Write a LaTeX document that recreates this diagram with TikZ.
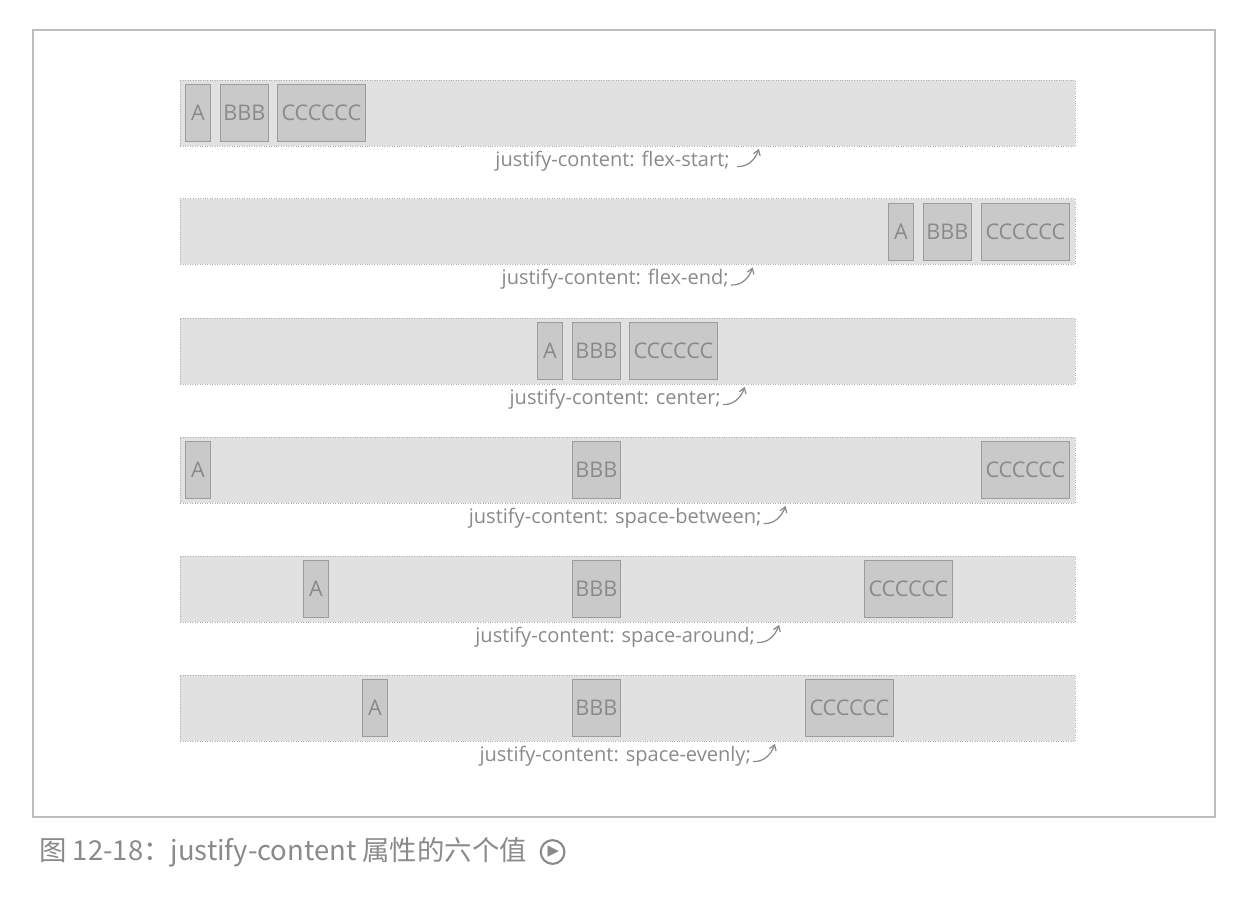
\documentclass[tikz,border=0pt]{standalone}
\usepackage{fontspec}
\setmainfont{Open Sans}
\newfontfamily\cjkfont{Noto Sans CJK SC}
\newfontfamily\symfont{DejaVu Sans}
\usetikzlibrary{positioning, arrows.meta}
\definecolor{flexbg}{HTML}{E1E1E1}
\definecolor{itembg}{HTML}{C9C9C9}
\definecolor{itemline}{HTML}{9C9C9C}
\definecolor{inkgray}{HTML}{8A8A8A}
\definecolor{framegray}{HTML}{BDBDBD}

\begin{document}
\begin{tikzpicture}[
    x=0.02cm, y=-0.02cm,
    flexbox/.style={draw=itemline!80, densely dotted, fill=flexbg, minimum width=17.9cm, minimum height=1.32cm, inner sep=0pt},
    item/.style={draw=itemline, fill=itembg, minimum height=1.14cm, inner sep=0pt, anchor=west, text=inkgray, font=\fontsize{12.3}{14}\selectfont},
    itemA/.style={item, minimum width=0.5cm},
    itemB/.style={item, minimum width=0.96cm},
    itemC/.style={item, minimum width=1.76cm},
    caption/.style={font=\fontsize{11.4}{13}\selectfont, text=inkgray, inner sep=1pt},
    hook/.style={inkgray, line width=0.7pt, -{Straight Barb[length=3pt, width=4pt]}}
  ]
    \useasboundingbox (0,0) rectangle (1252,906);
    \draw[framegray, line width=0.6pt] (33,30) rectangle (1215,817);

    % Flex containers
    \node[flexbox] (row1) at (627.5,113) {};
    \node[flexbox] (row2) at (627.5,231.5) {};
    \node[flexbox] (row3) at (627.5,351) {};
    \node[flexbox] (row4) at (627.5,470) {};
    \node[flexbox] (row5) at (627.5,589) {};
    \node[flexbox] (row6) at (627.5,708) {};

    % flex-start
    \node[itemA] (a1) at (185,113) {A};
    \node[itemB] (b1) at (220,113) {BBB};
    \node[itemC] (c1) at (277,113) {CCCCCC};
    % flex-end
    \node[itemA] (a2) at (888,231.5) {A};
    \node[itemB] (b2) at (923,231.5) {BBB};
    \node[itemC] (c2) at (981,231.5) {CCCCCC};
    % center
    \node[itemA] (a3) at (537,351) {A};
    \node[itemB] (b3) at (572,351) {BBB};
    \node[itemC] (c3) at (629,351) {CCCCCC};
    % space-between
    \node[itemA] (a4) at (185,470) {A};
    \node[itemB] (b4) at (572,470) {BBB};
    \node[itemC] (c4) at (981,470) {CCCCCC};
    % space-around
    \node[itemA] (a5) at (303,589) {A};
    \node[itemB] (b5) at (572,589) {BBB};
    \node[itemC] (c5) at (864,589) {CCCCCC};
    % space-evenly
    \node[itemA] (a6) at (362,708) {A};
    \node[itemB] (b6) at (572,708) {BBB};
    \node[itemC] (c6) at (805,708) {CCCCCC};

    % Labels below, room left for the hook arrow
    \node[caption, below=1.5pt of row1] (l1) {justify-content: flex-start;\rule{17pt}{0pt}};
    \node[caption, below=1.5pt of row2] (l2) {justify-content: flex-end;\rule{14pt}{0pt}};
    \node[caption, below=1.5pt of row3] (l3) {justify-content: center;\rule{14pt}{0pt}};
    \node[caption, below=1.5pt of row4] (l4) {justify-content: space-between;\rule{14pt}{0pt}};
    \node[caption, below=1.5pt of row5] (l5) {justify-content: space-around;\rule{14pt}{0pt}};
    \node[caption, below=1.5pt of row6] (l6) {justify-content: space-evenly;\rule{14pt}{0pt}};

    \draw[hook] ([xshift=-14pt,yshift=0pt]l1.base east) to[out=-5, in=-110] ([xshift=-1.5pt,yshift=10pt]l1.base east);
    \draw[hook] ([xshift=-14pt,yshift=0pt]l2.base east) to[out=-5, in=-110] ([xshift=-1.5pt,yshift=10pt]l2.base east);
    \draw[hook] ([xshift=-14pt,yshift=0pt]l3.base east) to[out=-5, in=-110] ([xshift=-1.5pt,yshift=10pt]l3.base east);
    \draw[hook] ([xshift=-14pt,yshift=0pt]l4.base east) to[out=-5, in=-110] ([xshift=-1.5pt,yshift=10pt]l4.base east);
    \draw[hook] ([xshift=-14pt,yshift=0pt]l5.base east) to[out=-5, in=-110] ([xshift=-1.5pt,yshift=10pt]l5.base east);
    \draw[hook] ([xshift=-14pt,yshift=0pt]l6.base east) to[out=-5, in=-110] ([xshift=-1.5pt,yshift=10pt]l6.base east);

    % Figure caption
    \node[anchor=west, text=inkgray, inner sep=0pt, font=\cjkfont\fontsize{15.6}{17}\selectfont] (fig) at (39,852) {图 12-18：justify-content 属性的六个值};
    \node[circle, draw=inkgray, line width=1.2pt, text=inkgray, inner sep=0pt, minimum size=13.5pt, font=\symfont\fontsize{8.5}{9}\selectfont, right=7pt of fig] (play) {\hspace{1pt}▶};
  \end{tikzpicture}
\end{document}
